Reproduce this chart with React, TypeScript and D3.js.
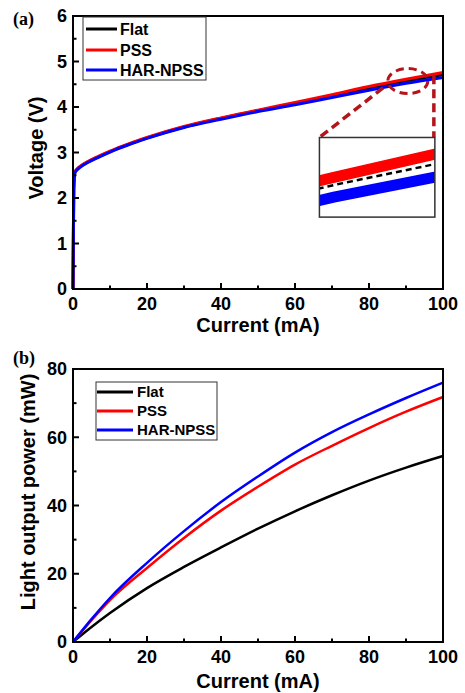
import React, { useEffect, useRef } from 'react'
import * as d3 from 'd3'

// panel (a): I-V curves
const currentV = [0, 0.2, 0.5, 1, 2, 4, 7, 10, 15, 20, 30, 40, 50, 60, 70, 80, 90, 100]
const voltFlat = [0, 2.2, 2.56, 2.62, 2.69, 2.79, 2.91, 3.02, 3.18, 3.32, 3.56, 3.75, 3.92, 4.08, 4.25, 4.42, 4.575, 4.71]
const voltPSS = [0, 2.2, 2.57, 2.63, 2.7, 2.8, 2.92, 3.03, 3.19, 3.33, 3.57, 3.76, 3.93, 4.1, 4.27, 4.45, 4.61, 4.76]
const voltHAR = [0, 2.2, 2.55, 2.61, 2.68, 2.78, 2.9, 3.01, 3.17, 3.31, 3.55, 3.73, 3.9, 4.05, 4.21, 4.37, 4.52, 4.65]

// panel (b): L-I curves
const currentP = [0, 5, 10, 20, 30, 40, 50, 60, 70, 80, 90, 100]
const powerFlat = [0, 4.4, 8.5, 15.8, 22, 27.7, 33.2, 38.3, 43, 47.3, 51.1, 54.5]
const powerPSS = [0, 6.4, 12.3, 21.7, 30.5, 38.5, 45.5, 52, 57.5, 62.7, 67.5, 71.8]
const powerHAR = [0, 6.7, 12.9, 23.2, 32.5, 41, 48.5, 55.5, 61.5, 66.7, 71.5, 76]

const seriesNames = ['Flat', 'PSS', 'HAR-NPSS']
const seriesColors = ['#000000', '#ff0000', '#0000ff']
const xTicks = [0, 20, 40, 60, 80, 100]
const vTicks = [0, 1, 2, 3, 4, 5, 6]
const pTicks = [0, 20, 40, 60, 80]

const FONT = "'Liberation Sans', Arial, sans-serif"

const App = () => {
    const ref = useRef<SVGSVGElement>(null)

    useEffect(() => {
        const svg = d3.select(ref.current)
        svg.selectAll('*').remove()

        const left = 73, right = 443

        const drawFrame = (g, x, y, yTicks, yMinor, top, bottom, xTitleY, yTitle, yTitleX, yTitleY) => {
            // minor + major ticks, pointing inward
            const xMinor = d3.range(10, 100, 20)
            g.selectAll('.xt').data(xTicks).enter().append('line')
                .attr('x1', d => x(d)).attr('x2', d => x(d))
                .attr('y1', bottom).attr('y2', bottom - 6)
                .attr('stroke', '#000').attr('stroke-width', 2)
            g.selectAll('.xm').data(xMinor).enter().append('line')
                .attr('x1', d => x(d)).attr('x2', d => x(d))
                .attr('y1', bottom).attr('y2', bottom - 3.5)
                .attr('stroke', '#000').attr('stroke-width', 2)
            g.selectAll('.yt').data(yTicks).enter().append('line')
                .attr('x1', left).attr('x2', left + 6)
                .attr('y1', d => y(d)).attr('y2', d => y(d))
                .attr('stroke', '#000').attr('stroke-width', 2)
            g.selectAll('.ym').data(yMinor).enter().append('line')
                .attr('x1', left).attr('x2', left + 3.5)
                .attr('y1', d => y(d)).attr('y2', d => y(d))
                .attr('stroke', '#000').attr('stroke-width', 2)

            g.append('rect')
                .attr('x', left).attr('y', top)
                .attr('width', right - left).attr('height', bottom - top)
                .attr('fill', 'none').attr('stroke', '#000').attr('stroke-width', 2)

            g.selectAll('.xl').data(xTicks).enter().append('text')
                .attr('x', d => x(d)).attr('y', bottom + 21)
                .attr('text-anchor', 'middle')
                .style('font-family', FONT).style('font-weight', 'bold').style('font-size', '18px')
                .text(d => d)
            g.selectAll('.yl').data(yTicks).enter().append('text')
                .attr('x', left - 6).attr('y', d => y(d)).attr('dy', '0.36em')
                .attr('text-anchor', 'end')
                .style('font-family', FONT).style('font-weight', 'bold').style('font-size', '18px')
                .text(d => d)

            g.append('text')
                .attr('x', (left + right) / 2).attr('y', xTitleY)
                .attr('text-anchor', 'middle')
                .style('font-family', FONT).style('font-weight', 'bold').style('font-size', '20px')
                .text('Current (mA)')
            g.append('text')
                .attr('transform', 'translate(' + yTitleX + ',' + yTitleY + ')rotate(-90)')
                .attr('text-anchor', 'middle')
                .style('font-family', FONT).style('font-weight', 'bold').style('font-size', '20px')
                .text(yTitle)
        }

        const drawLegend = (g, x0, y0, w, h, rows, lx1, lx2, tx, fs, lw) => {
            g.append('rect')
                .attr('x', x0).attr('y', y0).attr('width', w).attr('height', h)
                .attr('fill', '#fff').attr('stroke', '#333').attr('stroke-width', 1)
            seriesNames.forEach((name, i) => {
                g.append('line')
                    .attr('x1', lx1).attr('x2', lx2).attr('y1', rows[i]).attr('y2', rows[i])
                    .attr('stroke', seriesColors[i]).attr('stroke-width', lw)
                g.append('text')
                    .attr('x', tx).attr('y', rows[i]).attr('dy', '0.36em')
                    .style('font-family', FONT).style('font-weight', 'bold').style('font-size', fs + 'px')
                    .text(name)
            })
        }

        // ---------- (a) ----------
        const topA = 16, bottomA = 289
        const xA = d3.scaleLinear().domain([0, 100]).range([left, right])
        const yA = d3.scaleLinear().domain([0, 6]).range([bottomA, topA])
        const gA = svg.append('g')

        const lineA = (vals) => d3.line<number>()
            .x((d, i) => xA(currentV[i]))
            .y(d => yA(d))
            .curve(d3.curveMonotoneX)(vals)

        const voltSeries = [voltFlat, voltPSS, voltHAR]
        voltSeries.forEach((vals, i) => {
            gA.append('path').attr('d', lineA(vals))
                .attr('fill', 'none').attr('stroke', seriesColors[i]).attr('stroke-width', 3)
        })

        drawFrame(gA, xA, yA, vTicks, d3.range(0.5, 6, 1), topA, bottomA, 332, 'Voltage (V)', 43, 148)
        drawLegend(gA, 83, 17, 123, 63, [29, 50, 70], 86, 117, 120, 16, 3)

        // zoom annotation
        const dark = '#b3151b'
        gA.append('ellipse')
            .attr('cx', xA(90.5)).attr('cy', yA(4.57)).attr('rx', 20).attr('ry', 12.5)
            .attr('fill', 'none').attr('stroke', dark).attr('stroke-width', 3).attr('stroke-dasharray', '8 5')

        const ix0 = xA(66.6), ix1 = xA(97.8), iy0 = yA(3.33), iy1 = yA(1.58)
        gA.append('line')
            .attr('x1', xA(83.8)).attr('y1', yA(4.42)).attr('x2', ix0).attr('y2', iy0)
            .attr('stroke', dark).attr('stroke-width', 3.5).attr('stroke-dasharray', '9 5')
        gA.append('line')
            .attr('x1', ix1 - 1).attr('y1', yA(4.7)).attr('x2', ix1 - 1).attr('y2', iy0)
            .attr('stroke', dark).attr('stroke-width', 3.5).attr('stroke-dasharray', '9 5')

        svg.append('clipPath').attr('id', 'insetClip')
            .append('rect').attr('x', ix0).attr('y', iy0).attr('width', ix1 - ix0).attr('height', iy1 - iy0)
        const xIn = d3.scaleLinear().domain([89, 97]).range([ix0, ix1])
        const yIn = d3.scaleLinear().domain([4.43, 4.79]).range([iy1, iy0])
        const lineIn = (vals) => d3.line<number>()
            .x((d, i) => xIn(currentV[i]))
            .y(d => yIn(d))(vals)
        gA.append('rect').attr('x', ix0).attr('y', iy0).attr('width', ix1 - ix0).attr('height', iy1 - iy0)
            .attr('fill', '#fff')
        const gIn = gA.append('g').attr('clip-path', 'url(#insetClip)')
        gIn.append('path').attr('d', lineIn(voltPSS))
            .attr('fill', 'none').attr('stroke', '#ff0000').attr('stroke-width', 11)
        gIn.append('path').attr('d', lineIn(voltHAR))
            .attr('fill', 'none').attr('stroke', '#0000ff').attr('stroke-width', 11)
        gIn.append('path').attr('d', lineIn(voltFlat))
            .attr('fill', 'none').attr('stroke', '#000').attr('stroke-width', 2.5).attr('stroke-dasharray', '6 4')
        gA.append('rect').attr('x', ix0).attr('y', iy0).attr('width', ix1 - ix0).attr('height', iy1 - iy0)
            .attr('fill', 'none').attr('stroke', '#333').attr('stroke-width', 1.5)

        gA.append('text')
            .attr('x', 13).attr('y', 25)
            .style('font-family', "'Liberation Serif', 'Times New Roman', serif")
            .style('font-weight', 'bold').style('font-size', '18px')
            .text('(a)')

        // ---------- (b) ----------
        const topB = 369, bottomB = 642
        const xB = d3.scaleLinear().domain([0, 100]).range([left, right])
        const yB = d3.scaleLinear().domain([0, 80]).range([bottomB, topB])
        const gB = svg.append('g')

        const lineB = (vals) => d3.line<number>()
            .x((d, i) => xB(currentP[i]))
            .y(d => yB(d))
            .curve(d3.curveMonotoneX)(vals)

        const powerSeries = [powerFlat, powerPSS, powerHAR]
        powerSeries.forEach((vals, i) => {
            gB.append('path').attr('d', lineB(vals))
                .attr('fill', 'none').attr('stroke', seriesColors[i]).attr('stroke-width', 2.5)
        })

        drawFrame(gB, xB, yB, pTicks, d3.range(10, 80, 20), topB, bottomB, 688, 'Light output power (mW)', 35, 492)
        drawLegend(gB, 96, 382, 121, 58, [392, 411, 430], 97, 133, 137, 15, 3)

        gB.append('text')
            .attr('x', 13).attr('y', 364)
            .style('font-family', "'Liberation Serif', 'Times New Roman', serif")
            .style('font-weight', 'bold').style('font-size', '18px')
            .text('(b)')
    }, [])

    return (
        <svg ref={ref} width={465} height={693}
            style={{ position: 'absolute', left: 0, top: 0, background: '#fff' }}>
        </svg>
    )
}
export default App
